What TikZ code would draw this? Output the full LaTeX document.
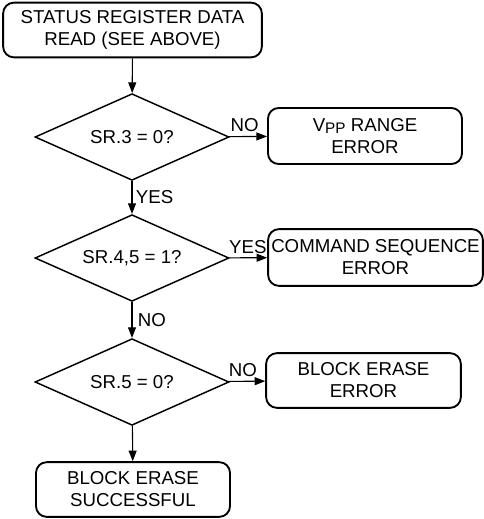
\documentclass[tikz,border=0pt]{standalone}
\usepackage{fontspec}
\setmainfont{Liberation Sans}
\usetikzlibrary{shapes.geometric, arrows.meta, positioning}

\begin{document}
\begin{tikzpicture}[
    x=0.75pt, y=-0.75pt,
    font=\fontsize{14}{16.5}\selectfont,
    box/.style={draw, rounded corners=8pt, line width=1.4pt, align=center, inner sep=0pt, minimum height=41pt},
    test/.style={draw, diamond, aspect=2.23, line width=1.1pt, inner sep=0pt, minimum width=145.5pt, minimum height=65pt},
    flow/.style={-{Triangle[length=8pt, width=6pt]}, line width=0.8pt},
    lbl/.style={inner sep=0pt}
]
    \useasboundingbox (0,0) rectangle (484,519);

    % Start
    \node[box, minimum width=194pt] (start) at (132.5,30) {STATUS REGISTER DATA\\READ (SEE ABOVE)};

    % Checks
    \node[test] (sr3) at (132,137) {SR.3 = 0?};
    \node[test] (sr45) at (132,258) {SR.4,5 = 1?};
    \node[test] (sr5) at (132,382) {SR.5 = 0?};

    % Error boxes
    \node[box, minimum width=145.5pt, minimum height=42pt] (vpp) at (365,136)
        {V\raisebox{-1.2pt}{\fontsize{11.5}{11.5}\selectfont PP} RANGE\\ERROR};
    \node[box, minimum width=161pt, minimum height=42.5pt] (cmd) at (375.5,257.5) {COMMAND SEQUENCE\\ERROR};
    \node[box, minimum width=146pt] (ers) at (363.5,380.5) {BLOCK ERASE\\ERROR};

    % End
    \node[box, minimum width=145.5pt] (done) at (133,489.5) {BLOCK ERASE\\SUCCESSFUL};

    % Connectors
    \draw[flow] (start) -- (sr3);
    \draw[flow] (sr3) -- node[pos=0, anchor=base west, lbl, xshift=1pt, yshift=3.5pt] {NO} (vpp);
    \draw[flow] (sr3) -- node[midway, right, inner sep=2.5pt] {YES} (sr45);
    \draw[flow] (sr45) -- node[pos=0, anchor=base west, lbl, xshift=-0.5pt, yshift=3.5pt] {YES} (cmd);
    \draw[flow] (sr45) -- node[midway, right, inner sep=4pt] {NO} (sr5);
    \draw[flow] (sr5) -- node[pos=0, anchor=base west, lbl, xshift=0pt, yshift=3.5pt] {NO} (ers);
    \draw[flow] (sr5) -- (done);

\end{tikzpicture}
\end{document}
